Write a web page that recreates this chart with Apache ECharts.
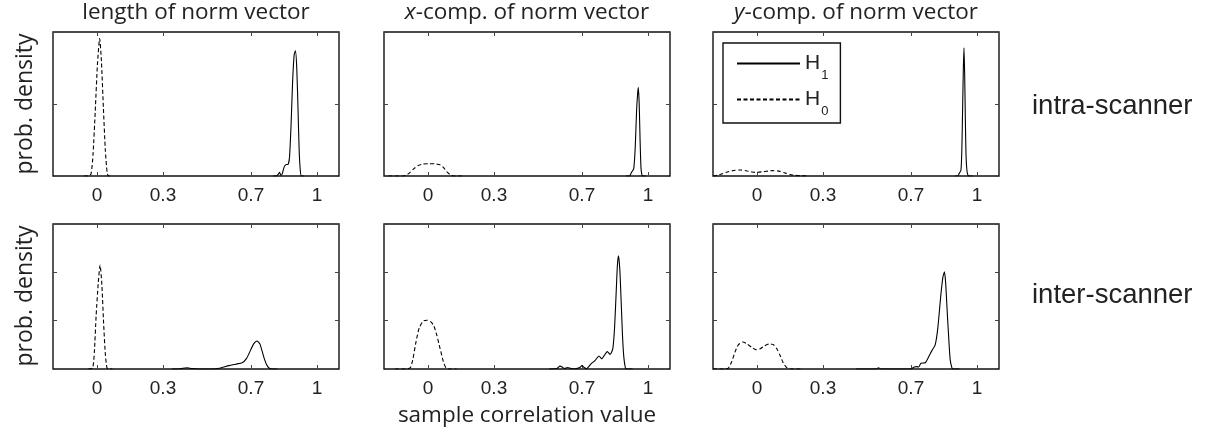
<!DOCTYPE html>
<html>
<head>
<meta charset="utf-8">
<script src="https://cdn.jsdelivr.net/npm/echarts@6/dist/echarts.min.js"></script>
<style>
  html, body { margin: 0; padding: 0; background: #fff; }
  #main { width: 1211px; height: 431px; }
</style>
</head>
<body>
<div id="main"></div>
<script>
// panel titles, row names, tick labels
var colTitles = ['length of norm vector', '{i|x}-comp. of norm vector', '{i|y}-comp. of norm vector'];
var rowNames = ['intra-scanner', 'inter-scanner'];
var xTicks = [0, 0.3, 0.7, 1];

// density curves: [correlation, density]
// row 1: intra-scanner
var lenIntraH1 = [[0.80,0],[0.815,0],[0.825,0.03],[0.83,0.05],[0.836,0.01],[0.842,0.03],[0.85,0.12],[0.86,0.16],[0.868,0.16],[0.875,0.26],[0.882,0.7],[0.889,1.3],[0.896,1.68],[0.902,1.74],[0.908,1.5],[0.914,0.9],[0.919,0.35],[0.924,0.08],[0.929,0],[0.94,0]];
var lenIntraH0 = [[-0.06,0],[-0.04,0],[-0.027,0.03],[-0.018,0.3],[-0.008,0.9],[0.002,1.55],[0.012,1.91],[0.02,1.6],[0.029,0.95],[0.038,0.35],[0.046,0.05],[0.052,0],[0.07,0]];
var xIntraH1 = [[0.90,0],[0.915,0],[0.925,0.05],[0.935,0.1],[0.942,0.4],[0.948,0.9],[0.953,1.15],[0.956,1.23],[0.96,1.0],[0.964,0.5],[0.968,0.12],[0.972,0.02],[0.976,0],[0.99,0]];
var xIntraH0 = [[-0.18,0],[-0.12,0],[-0.1,0.01],[-0.085,0.04],[-0.065,0.1],[-0.045,0.145],[-0.025,0.165],[0,0.17],[0.03,0.17],[0.055,0.155],[0.07,0.12],[0.085,0.06],[0.1,0.02],[0.115,0],[0.16,0]];
var yIntraH1 = [[0.90,0],[0.912,0],[0.92,0.04],[0.927,0.08],[0.931,0.35],[0.935,1.0],[0.938,1.5],[0.941,1.78],[0.944,1.4],[0.947,0.8],[0.95,0.3],[0.954,0.08],[0.958,0.02],[0.962,0],[0.98,0]];
var yIntraH0 = [[-0.2,0],[-0.17,0.02],[-0.13,0.06],[-0.1,0.08],[-0.075,0.083],[-0.045,0.07],[-0.01,0.05],[0.03,0.06],[0.07,0.074],[0.1,0.068],[0.13,0.04],[0.16,0.015],[0.2,0.003],[0.23,0]];
// row 2: inter-scanner
var lenInterH1 = [[0.34,0],[0.37,0],[0.39,0.015],[0.41,0.025],[0.43,0.01],[0.46,0],[0.53,0],[0.55,0.01],[0.575,0.04],[0.6,0.07],[0.63,0.1],[0.66,0.13],[0.68,0.22],[0.697,0.38],[0.712,0.52],[0.727,0.58],[0.74,0.52],[0.75,0.38],[0.76,0.22],[0.77,0.1],[0.78,0.03],[0.79,0.005],[0.80,0],[0.82,0]];
var lenInterH0 = [[-0.04,0],[-0.02,0.02],[-0.012,0.35],[-0.004,1.1],[0.006,1.8],[0.014,2.15],[0.022,1.75],[0.03,0.95],[0.038,0.3],[0.045,0.03],[0.052,0],[0.07,0]];
var xInterH1 = [[0.55,0],[0.585,0.01],[0.6,0.06],[0.61,0.04],[0.62,0.01],[0.635,0.03],[0.65,0.01],[0.67,0.005],[0.69,0.03],[0.70,0.07],[0.71,0.03],[0.72,0.005],[0.74,0.1],[0.76,0.18],[0.777,0.27],[0.79,0.21],[0.80,0.27],[0.815,0.36],[0.828,0.3],[0.84,0.42],[0.848,0.85],[0.855,1.55],[0.861,2.15],[0.866,2.34],[0.872,2.05],[0.878,1.4],[0.884,0.7],[0.89,0.25],[0.896,0.05],[0.90,0],[0.93,0]];
var xInterH0 = [[-0.15,0],[-0.1,0],[-0.08,0.03],[-0.068,0.22],[-0.055,0.55],[-0.04,0.85],[-0.022,0.99],[-0.005,1.01],[0.012,0.98],[0.026,0.9],[0.04,0.7],[0.055,0.42],[0.07,0.15],[0.082,0.02],[0.095,0],[0.13,0]];
var yInterH1 = [[0.45,0],[0.54,0],[0.552,0.025],[0.565,0],[0.70,0],[0.715,0.04],[0.725,0.05],[0.735,0.04],[0.745,0.12],[0.765,0.13],[0.78,0.25],[0.795,0.38],[0.81,0.5],[0.822,0.85],[0.835,1.5],[0.845,1.9],[0.852,2.01],[0.858,1.75],[0.865,1.15],[0.872,0.6],[0.878,0.2],[0.885,0.04],[0.89,0],[0.92,0]];
var yInterH0 = [[-0.2,0],[-0.15,0],[-0.13,0.02],[-0.115,0.15],[-0.1,0.35],[-0.085,0.5],[-0.065,0.56],[-0.045,0.52],[-0.025,0.45],[-0.005,0.4],[0.015,0.42],[0.035,0.48],[0.055,0.52],[0.075,0.5],[0.09,0.42],[0.105,0.28],[0.12,0.12],[0.135,0.03],[0.15,0.005],[0.17,0],[0.2,0]];

var h1Data = [lenIntraH1, xIntraH1, yIntraH1, lenInterH1, xInterH1, yInterH1];
var h0Data = [lenIntraH0, xIntraH0, yIntraH0, lenInterH0, xInterH0, yInterH0];
var yMax = [2, 3]; // row 1 has one inner tick, row 2 two

var colLeft = [53, 384, 713];
var rowTop = [32, 224];
var rowH = [144, 145];
var panelW = 286;

var grids = [], xAxes = [], yAxes = [], series = [], titles = [];
var tickFont = 'Liberation Sans, Arial, sans-serif';
var tickStyle = { color: '#444', width: 1 };

for (var r = 0; r < 2; r++) {
  for (var c = 0; c < 3; c++) {
    var g = r * 3 + c;
    grids.push({
      left: colLeft[c], top: rowTop[r], width: panelW, height: rowH[r],
      show: true, borderColor: '#111', borderWidth: 1.4, backgroundColor: '#fff'
    });
    // bottom axis with labels
    xAxes.push({
      type: 'value', gridIndex: g, position: 'bottom', min: -0.2, max: 1.1,
      axisLine: { show: false, onZero: false }, splitLine: { show: false },
      axisTick: { show: true, inside: true, length: 4, customValues: xTicks, lineStyle: tickStyle },
      axisLabel: { show: true, customValues: xTicks, margin: 10, fontSize: 19, color: '#222', fontFamily: tickFont,
        formatter: function (v) { return String(v); } }
    });
    // top axis: ticks only
    xAxes.push({
      type: 'value', gridIndex: g, position: 'top', min: -0.2, max: 1.1,
      axisLine: { show: false, onZero: false }, splitLine: { show: false },
      axisTick: { show: true, inside: true, length: 4, customValues: xTicks, lineStyle: tickStyle },
      axisLabel: { show: false }
    });
    yAxes.push({
      type: 'value', gridIndex: g, position: 'left', min: 0, max: yMax[r], interval: 1,
      axisLine: { show: false, onZero: false }, splitLine: { show: false }, axisLabel: { show: false },
      axisTick: { show: true, inside: true, length: 4, lineStyle: tickStyle }
    });
    yAxes.push({
      type: 'value', gridIndex: g, position: 'right', min: 0, max: yMax[r], interval: 1,
      axisLine: { show: false, onZero: false }, splitLine: { show: false }, axisLabel: { show: false },
      axisTick: { show: true, inside: true, length: 4, lineStyle: tickStyle }
    });
    series.push({
      name: 'H1', type: 'line', xAxisIndex: g * 2, yAxisIndex: g * 2,
      data: h1Data[g], symbol: 'none', smooth: 0.2, silent: true,
      itemStyle: { color: '#000' },
      lineStyle: { color: '#000', width: 1.1 }
    });
    series.push({
      name: 'H0', type: 'line', xAxisIndex: g * 2, yAxisIndex: g * 2,
      data: h0Data[g], symbol: 'none', smooth: 0.2, silent: true,
      itemStyle: { color: '#000' },
      lineStyle: { color: '#000', width: 1.1, type: [4, 2.5] }
    });
  }
}

for (var c2 = 0; c2 < 3; c2++) {
  titles.push({
    text: colTitles[c2], left: colLeft[c2] + panelW / 2, top: 1, textAlign: 'center', padding: 0,
    textStyle: { fontFamily: 'Open Sans', fontSize: 22.5, fontWeight: 'normal', color: '#222',
      rich: { i: { fontFamily: 'Open Sans', fontSize: 22.5, fontStyle: 'italic', color: '#222' } } }
  });
}

var ch = echarts.init(document.getElementById('main'));
var op = {
  animation: false,
  backgroundColor: '#fff',
  title: titles,
  legend: {
    data: ['H1', 'H0'], orient: 'vertical', left: 723, top: 43,
    width: 116, padding: [10, 12, 5, 13], itemGap: 7,
    itemWidth: 63, itemHeight: 14,
    borderColor: '#111', borderWidth: 1.4, backgroundColor: '#fff',
    selectedMode: false,
    itemStyle: { opacity: 0 },
    formatter: function (name) { return '{h|H}{s|' + name.charAt(1) + '}'; },
    textStyle: {
      color: '#222', fontFamily: tickFont,
      rich: {
        h: { fontSize: 21, lineHeight: 21, verticalAlign: 'top', fontFamily: tickFont, color: '#222' },
        s: { fontSize: 13, lineHeight: 13, verticalAlign: 'top', padding: [16, 0, 0, 1], fontFamily: tickFont, color: '#222' }
      }
    }
  },
  grid: grids,
  xAxis: xAxes,
  yAxis: yAxes,
  series: series,
  graphic: [
    { type: 'text', x: 25, y: 104, rotation: Math.PI / 2,
      style: { text: 'prob. density', font: '23px "Open Sans"', fill: '#222', align: 'center', verticalAlign: 'middle' } },
    { type: 'text', x: 25, y: 296, rotation: Math.PI / 2,
      style: { text: 'prob. density', font: '23px "Open Sans"', fill: '#222', align: 'center', verticalAlign: 'middle' } },
    { type: 'text', x: 1032, y: 106,
      style: { text: rowNames[0], font: '27.5px "Liberation Sans"', fill: '#222', align: 'left', verticalAlign: 'middle' } },
    { type: 'text', x: 1032, y: 295,
      style: { text: rowNames[1], font: '27.5px "Liberation Sans"', fill: '#222', align: 'left', verticalAlign: 'middle' } },
    { type: 'text', x: 527, y: 416,
      style: { text: 'sample correlation value', font: '22.5px "Open Sans"', fill: '#222', align: 'center', verticalAlign: 'middle' } }
  ]
};
ch.setOption(op);
</script>
</body>
</html>
